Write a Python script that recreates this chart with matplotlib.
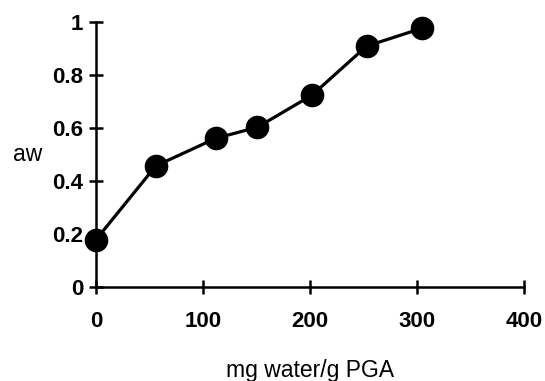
import matplotlib
matplotlib.use("Agg")
import matplotlib.pyplot as plt

# water content (mg water / g PGA) vs water activity
water = [0, 56, 112, 151, 202, 253, 305]
aw = [0.178, 0.457, 0.561, 0.603, 0.724, 0.909, 0.977]

x_ticks = [0, 100, 200, 300, 400]
y_ticks = [0, 0.2, 0.4, 0.6, 0.8, 1.0]
y_tick_labels = ["0", "0.2", "0.4", "0.6", "0.8", "1"]

plt.rcParams['font.family'] = ['Liberation Sans', 'DejaVu Sans']

fig = plt.figure(figsize=(5.45, 3.81), dpi=100)
ax = fig.add_axes([0.176, 0.247, 0.785, 0.695])

ax.plot(water, aw, color='black', linewidth=2.3, marker='o', markersize=16,
        markerfacecolor='black', markeredgecolor='black', clip_on=False, zorder=3)

ax.set_xlim(0, 400)
ax.set_ylim(0, 1)
ax.set_xticks(x_ticks)
ax.set_yticks(y_ticks)
ax.set_yticklabels(y_tick_labels)

for side in ['top', 'right']:
    ax.spines[side].set_visible(False)
for side in ['left', 'bottom']:
    ax.spines[side].set_linewidth(1.8)

ax.tick_params(direction='inout', length=10, width=1.8, labelsize=16)
ax.tick_params(axis='x', pad=12)
ax.tick_params(axis='y', pad=4)
for lab in ax.get_xticklabels() + ax.get_yticklabels():
    lab.set_fontweight('bold')

ax.set_xlabel("mg water/g PGA", fontsize=16.5, labelpad=20)
ax.set_ylabel("aw", fontsize=16.5, rotation=0, labelpad=18, va='center')

fig.savefig("out.png", dpi=100)
